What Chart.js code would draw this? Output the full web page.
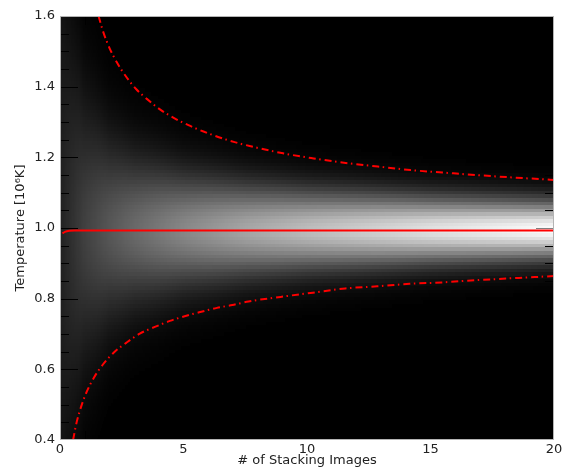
<!DOCTYPE html>
<html>
<head>
<meta charset="utf-8">
<script src="https://cdn.jsdelivr.net/npm/chart.js@4/dist/chart.umd.min.js"></script>
<style>
  body { margin: 0; background: #fff; }
  canvas { display: block; }
</style>
</head>
<body>
<canvas id="stackChart" width="565" height="468"></canvas>
<script>
// axis ticks
const xTicks = [0, 5, 10, 15, 20];
const yTicks = [0.4, 0.6, 0.8, 1.0, 1.2, 1.4, 1.6];

// mean temperature vs number of stacked images
const meanN = [0.1, 0.2, 0.38, 0.6, 20];
const meanT = [0.985, 0.989, 0.992, 0.993, 0.993];

// upper / lower error envelopes (dash-dot)
const upperN = [1.56, 1.76, 2.0, 2.3, 2.65, 3.07, 3.54, 4.06, 4.62, 5.2, 5.81, 6.43, 7.07, 7.68, 8.98, 10.27, 11.57, 12.87, 14.18, 15.49, 16.8, 18.1, 20];
const upperT = [1.6, 1.553, 1.51, 1.469, 1.431, 1.394, 1.364, 1.335, 1.311, 1.291, 1.273, 1.257, 1.243, 1.232, 1.212, 1.197, 1.184, 1.174, 1.164, 1.157, 1.15, 1.144, 1.136];
const lowerN = [0.53, 0.66, 0.84, 1.06, 1.36, 1.73, 2.17, 2.68, 3.23, 3.84, 4.45, 5.08, 5.72, 6.35, 6.98, 7.63, 8.93, 10.24, 11.55, 12.84, 14.15, 15.46, 16.77, 18.08, 20];
const lowerT = [0.4, 0.446, 0.491, 0.533, 0.575, 0.613, 0.647, 0.675, 0.701, 0.72, 0.737, 0.751, 0.763, 0.774, 0.782, 0.792, 0.805, 0.817, 0.829, 0.835, 0.842, 0.846, 0.852, 0.857, 0.864];

// gray distribution: centre, width and brightness along the x axis
const bandMean = 0.995;
const bandN = [0, 0.25, 0.5, 1, 2, 3, 5, 7.5, 10, 15, 20];
const bandSigma = [0.6, 0.45, 0.36, 0.25, 0.175, 0.142, 0.11, 0.09, 0.078, 0.064, 0.055];
const bandPeak = [32, 40, 48, 64, 86, 104, 135, 165, 188, 224, 252];

function toPoints(xs, ys) {
  return xs.map((v, i) => ({ x: v, y: ys[i] }));
}

function lerp(xs, ys, v) {
  if (v <= xs[0]) return ys[0];
  for (let i = 1; i < xs.length; i++) {
    if (v <= xs[i]) {
      const f = (v - xs[i - 1]) / (xs[i] - xs[i - 1]);
      return ys[i - 1] + f * (ys[i] - ys[i - 1]);
    }
  }
  return ys[ys.length - 1];
}

/* ===== black panel + gray density map ===== */
const heatPlugin = {
  id: "stackHeat",
  beforeDatasetsDraw(chart) {
    const { ctx, chartArea: a, scales: { x, y } } = chart;
    ctx.save();
    ctx.beginPath();
    ctx.rect(a.left, a.top, a.right - a.left, a.bottom - a.top);
    ctx.clip();
    ctx.fillStyle = "#000";
    ctx.fillRect(a.left, a.top, a.right - a.left, a.bottom - a.top);

    const step = 0.05;
    for (let c = 0; c < 400; c++) {
      const n0 = c * step, n1 = (c + 1) * step;
      const x0 = Math.round(x.getPixelForValue(n0));
      const x1 = Math.round(x.getPixelForValue(n1));
      const sig = lerp(bandN, bandSigma, n0 + step / 2);
      const peak = lerp(bandN, bandPeak, n0 + step / 2);
      for (let k = 40; k <= 160; k++) {
        const t = k / 100;
        const g = Math.round(peak * Math.exp(-((t - bandMean) ** 2) / (2 * sig * sig)));
        if (g < 2) continue;
        const y0 = Math.round(y.getPixelForValue(t + 0.005));
        const y1 = Math.round(y.getPixelForValue(t - 0.005));
        ctx.fillStyle = `rgb(${g},${g},${g})`;
        ctx.fillRect(x0, y0, x1 - x0, y1 - y0);
      }
    }
    ctx.restore();
  },
  afterDatasetsDraw(chart) {
    const { ctx, chartArea: a, scales: { x, y } } = chart;
    ctx.save();
    ctx.lineWidth = 1;
    // inward ticks on all four sides
    for (let i = 1; i < 24; i++) {
      const v = 0.4 + i * 0.05;
      const py = Math.round(y.getPixelForValue(v)) + 0.5;
      const len = i % 4 === 0 ? 18 : 9;
      ctx.strokeStyle = "#000";
      ctx.beginPath();
      ctx.moveTo(a.left, py);
      ctx.lineTo(a.left + len, py);
      ctx.stroke();
      ctx.strokeStyle = i === 12 ? "#808080" : "#000";
      ctx.beginPath();
      ctx.moveTo(a.right, py);
      ctx.lineTo(a.right - len, py);
      ctx.stroke();
    }
    ctx.strokeStyle = "#000";
    for (let n = 1; n < 20; n++) {
      const px = Math.round(x.getPixelForValue(n)) + 0.5;
      const len = n % 5 === 0 ? 18 : 9;
      ctx.beginPath();
      ctx.moveTo(px, a.bottom);
      ctx.lineTo(px, a.bottom - len);
      ctx.moveTo(px, a.top);
      ctx.lineTo(px, a.top + len);
      ctx.stroke();
    }
    // frame
    ctx.strokeStyle = "#b4b4b4";
    ctx.strokeRect(a.left + 0.5, a.top + 0.5, a.right - a.left - 1, a.bottom - a.top - 1);
    ctx.restore();
  },
};

const dashDot = [7, 3.5, 1.5, 4];
const fontSpec = { family: "'DejaVu Sans', sans-serif", size: 13 };

new Chart(document.getElementById("stackChart"), {
  type: "line",
  data: {
    datasets: [
      {
        data: toPoints(upperN, upperT),
        borderColor: "#ff0000",
        borderWidth: 2,
        borderDash: dashDot,
        pointRadius: 0,
        cubicInterpolationMode: "monotone",
      },
      {
        data: toPoints(lowerN, lowerT),
        borderColor: "#ff0000",
        borderWidth: 2,
        borderDash: dashDot,
        pointRadius: 0,
        cubicInterpolationMode: "monotone",
      },
      {
        data: toPoints(meanN, meanT),
        borderColor: "#ff0000",
        borderWidth: 2,
        pointRadius: 0,
        cubicInterpolationMode: "monotone",
      },
    ],
  },
  options: {
    responsive: false,
    animation: false,
    devicePixelRatio: 1,
    layout: { padding: { left: 0, top: 16, right: 11, bottom: 0 } },
    plugins: { legend: { display: false }, tooltip: { enabled: false } },
    scales: {
      x: {
        type: "linear",
        min: 0,
        max: 20,
        afterBuildTicks: (s) => { s.ticks = xTicks.map((v) => ({ value: v })); },
        afterFit: (s) => { s.height = 28; },
        grid: { display: false, drawTicks: false },
        border: { display: false },
        ticks: { font: fontSpec, color: "#222", padding: 2, maxRotation: 0 },
        title: {
          display: true,
          text: "# of Stacking Images",
          font: fontSpec,
          color: "#222",
          padding: { top: 0, bottom: 0 },
        },
      },
      y: {
        type: "linear",
        min: 0.4,
        max: 1.6,
        afterBuildTicks: (s) => { s.ticks = yTicks.map((v) => ({ value: v })); },
        afterFit: (s) => { s.width = 60; },
        grid: { display: false, drawTicks: false },
        border: { display: false },
        ticks: {
          font: fontSpec,
          color: "#222",
          padding: 5,
          callback: (v) => Number(v).toFixed(1),
        },
        title: {
          display: true,
          text: "Temperature [10\u2076K]",
          font: fontSpec,
          color: "#222",
          padding: { top: 13, bottom: 0 },
        },
      },
    },
  },
  plugins: [heatPlugin],
});
</script>
</body>
</html>
